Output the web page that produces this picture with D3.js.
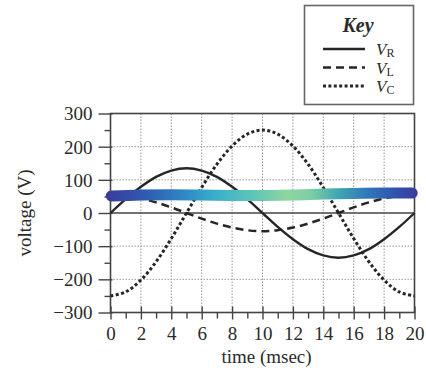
<!DOCTYPE html>
<html>
<head>
<meta charset="utf-8">
<script src="https://cdn.jsdelivr.net/npm/d3@7"></script>
<style>
  body { margin: 0; background: #fff; }
  svg { display: block; }
  text { font-family: "Liberation Serif", "Times New Roman", serif; fill: #2b2b2b; }
</style>
</head>
<body>
<div id="chart"></div>
<script>
// time samples (msec) and voltages
const times = [0, 1, 2, 3, 4, 5, 6, 7, 8, 9, 10, 11, 12, 13, 14, 15, 16, 17, 18, 19, 20];
const vR = [0, 42, 79, 109, 128, 135, 128, 109, 79, 42, 0, -42, -79, -109, -128, -135, -128, -109, -79, -42, 0];
const vL = [55, 52, 44, 32, 17, 0, -17, -32, -44, -52, -55, -52, -44, -32, -17, 0, 17, 32, 44, 52, 55];
const vC = [-250, -238, -202, -147, -77, 0, 77, 147, 202, 238, 250, 238, 202, 147, 77, 0, -77, -147, -202, -238, -250];

// the coloured band drawn over the plot
const bandT = [0.05, 2, 4, 6, 8, 10, 12, 14, 16, 18, 19.85];
const bandV = [51, 54, 55, 54, 53, 53, 54, 57, 59, 60, 60];

const xTicks = [0, 2, 4, 6, 8, 10, 12, 14, 16, 18, 20];
const yTicks = [-300, -200, -100, 0, 100, 200, 300];
const keyLabels = ["R", "L", "C"];

const W = 426, H = 374;
const plot = { left: 110.5, right: 414.5, top: 113.5, bottom: 312.5 };

const svg = d3.select("#chart").append("svg")
  .attr("width", W)
  .attr("height", H);

const x = d3.scaleLinear().domain([0, 20]).range([plot.left, plot.right]);
const y = d3.scaleLinear().domain([-300, 300]).range([plot.bottom, plot.top]);

// dotted grid
const grid = svg.append("g")
  .attr("stroke", "#9a9a9a")
  .attr("stroke-width", 1)
  .attr("stroke-dasharray", "1.5,1.5");
grid.selectAll(".gx")
  .data(xTicks.filter(d => d > 0 && d < 20))
  .enter().append("line")
  .attr("x1", d => x(d)).attr("x2", d => x(d))
  .attr("y1", plot.top).attr("y2", plot.bottom);
grid.selectAll(".gy")
  .data(yTicks.filter(d => d !== 0 && Math.abs(d) < 300))
  .enter().append("line")
  .attr("x1", plot.left).attr("x2", plot.right)
  .attr("y1", d => y(d)).attr("y2", d => y(d));

// zero line
svg.append("line")
  .attr("x1", plot.left).attr("x2", plot.right)
  .attr("y1", y(0)).attr("y2", y(0))
  .attr("stroke", "#444").attr("stroke-width", 1.5);

// frame
svg.append("rect")
  .attr("x", plot.left).attr("y", plot.top)
  .attr("width", plot.right - plot.left)
  .attr("height", plot.bottom - plot.top)
  .attr("fill", "none")
  .attr("stroke", "#444")
  .attr("stroke-width", 1.6);

// axes: major ticks with labels, minor ticks without
const yMinor = d3.range(-250, 300, 100);
svg.append("g")
  .attr("transform", `translate(${plot.left},0)`)
  .call(d3.axisLeft(y).tickValues(yMinor).tickSize(6).tickFormat(""))
  .call(g => g.select(".domain").remove())
  .selectAll("line").attr("stroke", "#444").attr("stroke-width", 1.4);

const yAxis = svg.append("g")
  .attr("transform", `translate(${plot.left},0)`)
  .call(d3.axisLeft(y).tickValues(yTicks).tickSize(12).tickPadding(6)
    .tickFormat(d => d < 0 ? "\u2212" + Math.abs(d) : d));
yAxis.select(".domain").remove();
yAxis.selectAll("line").attr("stroke", "#444").attr("stroke-width", 1.4).attr("x2", -12).attr("x1", 2);
yAxis.selectAll("text").style("font-size", "19px").attr("dy", "0.34em").attr("fill", "#2b2b2b");

const xMinor = d3.range(1, 20, 2);
svg.append("g")
  .attr("transform", `translate(0,${plot.bottom})`)
  .call(d3.axisBottom(x).tickValues(xMinor).tickSize(6).tickFormat(""))
  .call(g => g.select(".domain").remove())
  .selectAll("line").attr("stroke", "#444").attr("stroke-width", 1.4);

const xAxis = svg.append("g")
  .attr("transform", `translate(0,${plot.bottom})`)
  .call(d3.axisBottom(x).tickValues(xTicks).tickSize(7).tickPadding(7));
xAxis.select(".domain").remove();
xAxis.selectAll("line").attr("stroke", "#444").attr("stroke-width", 1.4).attr("y1", -6);
xAxis.selectAll("text").style("font-size", "19px").attr("fill", "#2b2b2b");

// axis titles
svg.append("text")
  .attr("x", (plot.left + plot.right) / 2 + 4)
  .attr("y", 363)
  .attr("text-anchor", "middle")
  .style("font-size", "19px")
  .text("time (msec)");

svg.append("text")
  .attr("transform", `translate(31,${y(0)}) rotate(-90)`)
  .attr("text-anchor", "middle")
  .style("font-size", "19px")
  .text("voltage (V)");

// curves
const line = d3.line()
  .x((d, i) => x(times[i]))
  .y(d => y(d))
  .curve(d3.curveCatmullRom);

const series = [
  { values: vR, dash: null, width: 2.4 },
  { values: vL, dash: "8,5", width: 2.5 },
  { values: vC, dash: "3,2.4", width: 3 }
];

svg.selectAll(".curve")
  .data(series)
  .enter().append("path")
  .attr("class", "curve")
  .attr("d", d => line(d.values))
  .attr("fill", "none")
  .attr("stroke", "#262626")
  .attr("stroke-width", d => d.width)
  .attr("stroke-dasharray", d => d.dash);

// coloured band on top
const grad = svg.append("defs").append("linearGradient")
  .attr("id", "band")
  .attr("gradientUnits", "userSpaceOnUse")
  .attr("x1", 104).attr("x2", 418).attr("y1", 0).attr("y2", 0);
const stops = [
  [0.00, "#3b3a98"], [0.14, "#2f5cb3"], [0.26, "#2f8ac4"], [0.35, "#38aecb"],
  [0.47, "#5cc4b8"], [0.58, "#8ed5a0"], [0.66, "#7ccda6"], [0.74, "#43a9b2"],
  [0.84, "#2f77b8"], [0.93, "#3052ae"], [1.00, "#3b3a9c"]
];
grad.selectAll("stop").data(stops).enter().append("stop")
  .attr("offset", d => d[0]).attr("stop-color", d => d[1]);

const bandLine = d3.line()
  .x((d, i) => x(bandT[i]))
  .y(d => y(d))
  .curve(d3.curveCatmullRom);

svg.append("path")
  .attr("d", bandLine(bandV))
  .attr("fill", "none")
  .attr("stroke", "url(#band)")
  .attr("stroke-width", 11)
  .attr("stroke-linecap", "round");

// key box
const key = svg.append("g");
key.append("rect")
  .attr("x", 304.5).attr("y", 5.5)
  .attr("width", 109).attr("height", 99)
  .attr("fill", "#fff")
  .attr("stroke", "#666")
  .attr("stroke-width", 1.6);

key.append("text")
  .attr("x", 358).attr("y", 32)
  .attr("text-anchor", "middle")
  .style("font-size", "20px")
  .style("font-style", "italic")
  .style("font-weight", "bold")
  .text("Key");

const keyRows = key.selectAll(".row")
  .data(series)
  .enter().append("g")
  .attr("transform", (d, i) => `translate(0,${49 + i * 18.5})`);

keyRows.append("line")
  .attr("x1", 323).attr("x2", 365)
  .attr("y1", 0).attr("y2", 0)
  .attr("stroke", "#262626")
  .attr("stroke-width", d => d.width)
  .attr("stroke-dasharray", d => d.dash);

const lbl = keyRows.append("text")
  .attr("x", 376).attr("y", 6)
  .style("font-size", "17px");
lbl.append("tspan").style("font-style", "italic").text("V");
lbl.append("tspan")
  .attr("dy", 2)
  .style("font-size", "12px")
  .text((d, i) => keyLabels[i]);
</script>
</body>
</html>
